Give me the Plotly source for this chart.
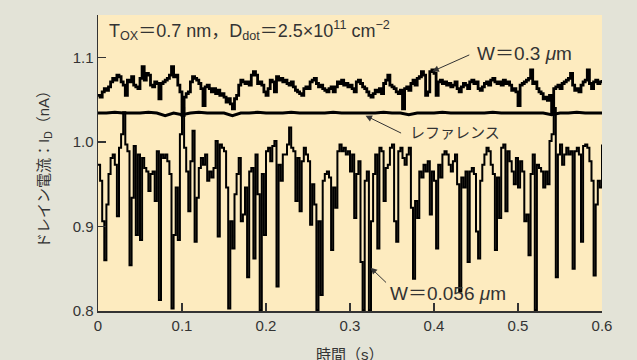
import numpy as np
import plotly.graph_objects as go

# ---- data ----
dt = 0.0025

w056 = [0.973,0.954,0.906,0.86,0.926,0.962,0.981,0.985,0.973,0.912,
        0.993,1.009,1.035,0.997,0.989,0.854,0.934,0.995,0.89,0.985,
        0.884,0.981,0.969,0.965,0.942,0.962,0.965,0.93,0.989,0.813,
        0.985,0.981,0.985,0.977,0.962,0.803,0.89,0.946,0.884,1.009,
        1.04,0.993,0.965,0.918,0.977,1.013,0.882,0.934,0.969,0.981,
        0.973,0.985,0.954,0.965,0.958,0.969,1.001,0.888,0.997,0.993,
        0.989,
        0.946,0.803,0.906,0.874,0.938,0.962,0.981,0.906,0.914,0.946,
        0.84,0.965,0.969,0.862,0.985,0.938,0.801,0.962,0.89,0.989,
        0.993,0.977,0.995,1.001,0.829,0.973,0.954,0.985,0.985,0.997,
        1.017,0.993,0.989,0.93,0.981,0.918,0.977,0.993,0.985,0.977,
        0.902,0.95,0.926,0.801,0.906,0.819,0.954,0.962,0.965,0.958,
        0.872,0.946,0.922,0.989,0.997,0.989,0.993,0.985,0.989,0.965,
        0.985,0.91,0.962,0.977,0.858,0.801,0.954,0.965,0.801,0.906,
        0.962,0.985,0.874,0.993,0.989,0.93,0.969,0.973,0.993,0.997,
        0.906,0.882,0.989,0.993,0.981,0.973,0.985,0.993,0.922,0.838,
        0.93,0.91,0.965,0.958,0.973,0.965,0.977,0.914,0.965,0.954,
        0.874,0.973,0.958,0.985,0.989,0.985,0.973,0.965,0.977,0.985,
        0.95,0.823,0.958,0.946,0.965,0.858,0.965,0.969,0.962,0.894,
        0.862,0.954,0.973,0.985,0.993,0.989,0.973,0.962,0.872,0.958,
        0.91,0.993,0.997,0.918,0.989,0.977,0.965,0.95,0.981,0.946,
        0.977,0.965,0.906,0.914,0.866,0.962,0.985,0.801,0.973,0.969,
        0.965,0.946,0.965,0.95,1.001,1.009,1.04,0.84,0.985,0.997,
        0.973,0.985,0.993,0.985,0.989,0.85,0.989,0.993,0.985,0.882,
        0.995,0.997,0.993,0.977,0.954,0.842,0.926,0.954,0.946,0.997]

w03 = [1.055,1.053,1.059,1.063,1.061,1.065,1.071,1.075,1.073,1.079,
       1.077,1.071,1.067,1.055,1.073,1.071,1.077,1.067,1.065,1.063,
       1.075,1.089,1.073,1.081,1.079,1.067,1.065,1.071,1.069,1.051,
       1.069,1.071,1.073,1.075,1.079,1.089,1.077,1.079,1.067,1.059,
       1.031,1.053,1.057,1.059,1.071,1.077,1.075,1.073,1.069,1.063,
       1.043,1.065,1.067,1.063,1.059,1.063,1.057,1.061,1.055,1.057,
       1.053,1.047,1.051,1.045,1.039,1.051,1.055,1.067,1.073,1.071,
       1.069,1.071,1.067,1.079,1.083,1.079,1.069,1.071,1.067,1.059,
       1.055,1.063,1.073,1.071,1.059,1.077,1.073,1.075,1.071,1.073,
       1.069,1.067,1.071,1.065,1.061,1.059,1.057,1.055,1.063,1.065,
       1.063,1.071,1.073,1.075,1.069,1.065,1.067,1.063,1.061,1.059,
       1.063,1.065,1.059,1.065,1.071,1.069,1.073,1.067,1.069,1.065,
       1.067,
       1.063,1.059,1.071,1.073,1.069,1.065,1.063,1.059,1.055,1.053,
       1.057,1.061,1.059,1.063,1.057,1.069,1.073,1.079,1.067,1.065,
       1.063,1.059,1.057,1.061,1.039,1.063,1.065,1.061,1.069,1.073,
       1.067,1.075,1.077,1.083,1.079,1.055,1.059,1.083,1.085,1.081,
       1.055,1.071,1.073,1.069,1.071,1.067,1.069,1.065,1.067,1.071,
       1.063,1.059,1.065,1.069,1.067,1.063,1.071,1.073,1.069,1.071,
       1.063,1.061,1.065,1.069,1.071,1.067,1.073,1.075,1.071,1.069,
       1.071,1.067,1.073,1.069,1.071,1.067,1.061,1.063,1.059,1.043,
       1.067,1.069,1.071,1.073,1.075,1.085,1.069,1.071,1.063,1.059,
       1.057,1.051,1.053,1.049,1.055,1.033,1.063,1.065,1.067,1.063,
       1.069,1.071,1.073,1.075,1.081,1.067,1.061,1.063,1.059,1.067,
       1.071,1.073,1.085,1.069,1.063,1.071,1.073,1.069,1.071,1.073]

ref_dt = 0.01
reference = [1.034,1.034,1.035,1.034,1.034,1.034,1.035,1.034,1.031,1.034,
             1.032,1.034,1.035,1.034,1.034,1.034,1.031,1.034,1.034,1.035,
             1.034,1.034,1.034,1.035,1.034,1.034,1.034,1.034,1.035,1.034,
             1.034,1.034,1.034,1.034,1.035,1.034,1.034,1.032,1.034,1.034,
             1.034,1.035,1.034,1.034,1.034,1.034,1.034,1.035,1.034,1.034,
             1.034,1.034,1.034,1.034,1.032,1.034,1.034,1.035,1.034,1.034,
             1.034]

x_ticks = [0, 0.1, 0.2, 0.3, 0.4, 0.5, 0.6]
x_tick_labels = ["0", "0.1", "0.2", "0.3", "0.4", "0.5", "0.6"]
y_ticks = [0.8, 0.9, 1.0, 1.1]
y_tick_labels = ["0.8", "0.9", "1.0", "1.1"]

t_w = np.arange(len(w056)) * dt
t_ref = np.arange(len(reference)) * ref_dt

FONT = "Liberation Sans, Arial, 'Noto Sans CJK JP', sans-serif"
TXT = "#333333"
PAPER = "#e3e3d7"

fig = go.Figure()
fig.add_trace(go.Scatter(x=t_ref, y=reference, mode="lines",
                         line=dict(color="black", width=3), hoverinfo="skip"))
fig.add_trace(go.Scatter(x=t_w, y=w03, mode="lines", line_shape="hv",
                         line=dict(color="black", width=2.8), hoverinfo="skip"))
fig.add_trace(go.Scatter(x=t_w, y=w056, mode="lines", line_shape="hv",
                         line=dict(color="black", width=2), hoverinfo="skip"))

fig.update_layout(
    width=637, height=360,
    margin=dict(l=98, r=35, t=15, b=49, autoexpand=False),
    paper_bgcolor=PAPER,
    plot_bgcolor="#fdebbf",
    showlegend=False,
    hovermode=False,
    font=dict(family=FONT, color=TXT, size=15),
)
fig.update_xaxes(range=[0, 0.6], tickvals=x_ticks, ticktext=x_tick_labels,
                 ticks="inside", ticklen=8, tickwidth=1.3, tickcolor=TXT,
                 showline=True, linecolor=TXT, linewidth=1.5,
                 showgrid=False, zeroline=False, automargin=False,
                 tickfont=dict(size=15, color=TXT))
fig.update_yaxes(range=[0.8, 1.15], tickvals=y_ticks, ticktext=y_tick_labels,
                 ticks="inside", ticklen=8, tickwidth=1.3, tickcolor=TXT,
                 showline=True, linecolor=TXT, linewidth=1.5,
                 showgrid=False, zeroline=False, automargin=False,
                 tickfont=dict(size=15, color=TXT))

annos = [
    dict(x=0.0107, y=1.132, xref="x", yref="y", xanchor="left", yanchor="middle",
         text="T<sub>OX</sub>＝0.7 nm，D<sub>dot</sub>＝2.5×10<sup>11</sup> cm<sup>−2</sup>",
         showarrow=False, font=dict(size=18, color=TXT)),
    dict(x=0.4485, y=1.105, xref="x", yref="y", xanchor="left", yanchor="middle",
         text="W＝0.3 <i>μ</i>m", showarrow=False, font=dict(size=19, color=TXT)),
    dict(x=0.3686, y=1.0107, xref="x", yref="y", xanchor="left", yanchor="middle",
         text="レファレンス", showarrow=False, font=dict(size=15, color=TXT)),
    dict(x=0.3447, y=0.8202, xref="x", yref="y", xanchor="left", yanchor="middle",
         text="W＝0.056 <i>μ</i>m", showarrow=False, font=dict(size=19, color=TXT)),
    dict(x=0.5, y=-0.113, xref="paper", yref="paper", xanchor="center", yanchor="top",
         text="時間（s）", showarrow=False, font=dict(size=15, color=TXT)),
    dict(x=-0.105, y=0.49, xref="paper", yref="paper", xanchor="center", yanchor="middle",
         text="ドレイン電流：I<sub>D</sub>（nA）", textangle=-90,
         showarrow=False, font=dict(size=15, color=TXT)),
]
arrows = [
    ((0.398, 1.0833), (0.4438, 1.1036)),
    ((0.3185, 1.031), (0.3626, 1.0095)),
    ((0.3245, 0.8512), (0.3447, 0.832)),
]
for (hx, hy), (tx, ty) in arrows:
    annos.append(dict(x=hx, y=hy, ax=tx, ay=ty, xref="x", yref="y",
                      axref="x", ayref="y", text="", showarrow=True,
                      arrowhead=2, arrowsize=1.3, arrowwidth=1, arrowcolor=TXT))
fig.update_layout(annotations=annos)

fig.write_html(
    "out.html",
    config={"displayModeBar": False, "staticPlot": True},
    post_script="document.body.style.margin='0';"
                "document.body.style.background='" + PAPER + "';",
)
